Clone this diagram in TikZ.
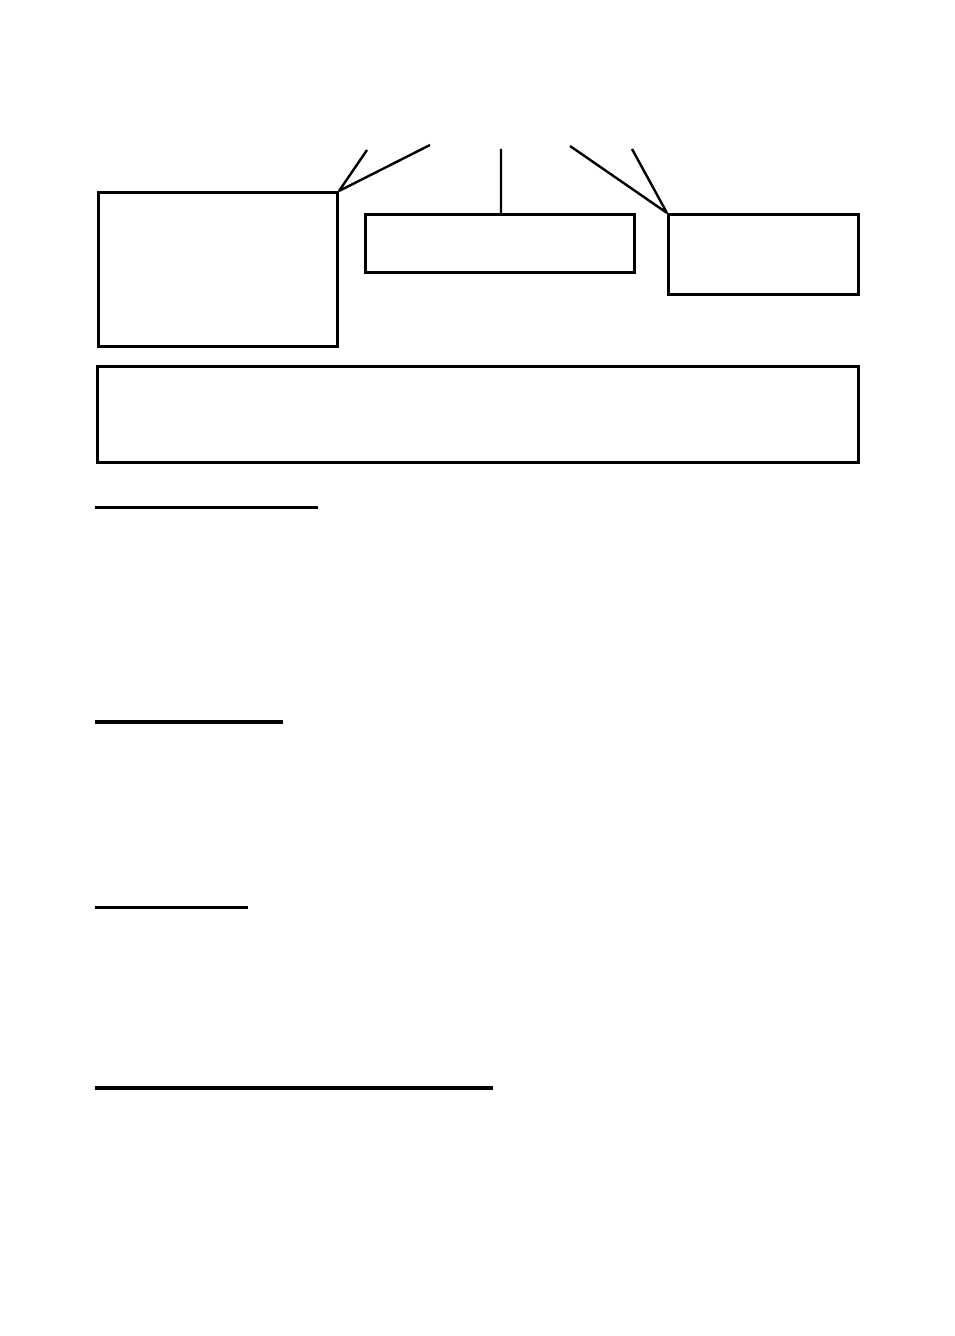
\documentclass[tikz,border=0pt]{standalone}
\usepackage{tikz}
\usetikzlibrary{positioning}
\begin{document}
\begin{tikzpicture}[x=0.5pt,y=-0.5pt,line width=1.5pt]
    \tikzstyle{box}=[draw,rectangle,inner sep=0pt,anchor=north west]
    \tikzstyle{lead}=[line width=1.2pt]
    \tikzstyle{rule}=[line width=1.5pt]
    \tikzstyle{thickrule}=[line width=2pt]
    \useasboundingbox (0,0) rectangle (954,1336);

    \node[box,minimum width=119.5pt,minimum height=77pt] (left)   at (97,191)  {};
    \node[box,minimum width=134.5pt,minimum height=29pt] (middle) at (364,213) {};
    \node[box,minimum width=95pt,minimum height=40pt]    (right)  at (667,213) {};
    \node[box,minimum width=380.5pt,minimum height=48pt] (wide)   at (96,365)  {};

    \coordinate (leftA)  at (367,150);
    \coordinate (leftB)  at (430,145);
    \coordinate (midA)   at (501,149);
    \coordinate (rightA) at (570,146);
    \coordinate (rightB) at (632,149);

    \draw[lead] (left.north east)  -- (leftA)
                (left.north east)  -- (leftB)
                (midA |- middle.north) -- (midA)
                (right.north west) -- (rightA)
                (right.north west) -- (rightB);

    \draw[rule]      (95,507)  -- (318,507);
    \draw[thickrule] (95,722)  -- (283,722);
    \draw[rule]      (95,907)  -- (248,907);
    \draw[thickrule] (95,1088) -- (493,1088);
\end{tikzpicture}
\end{document}
